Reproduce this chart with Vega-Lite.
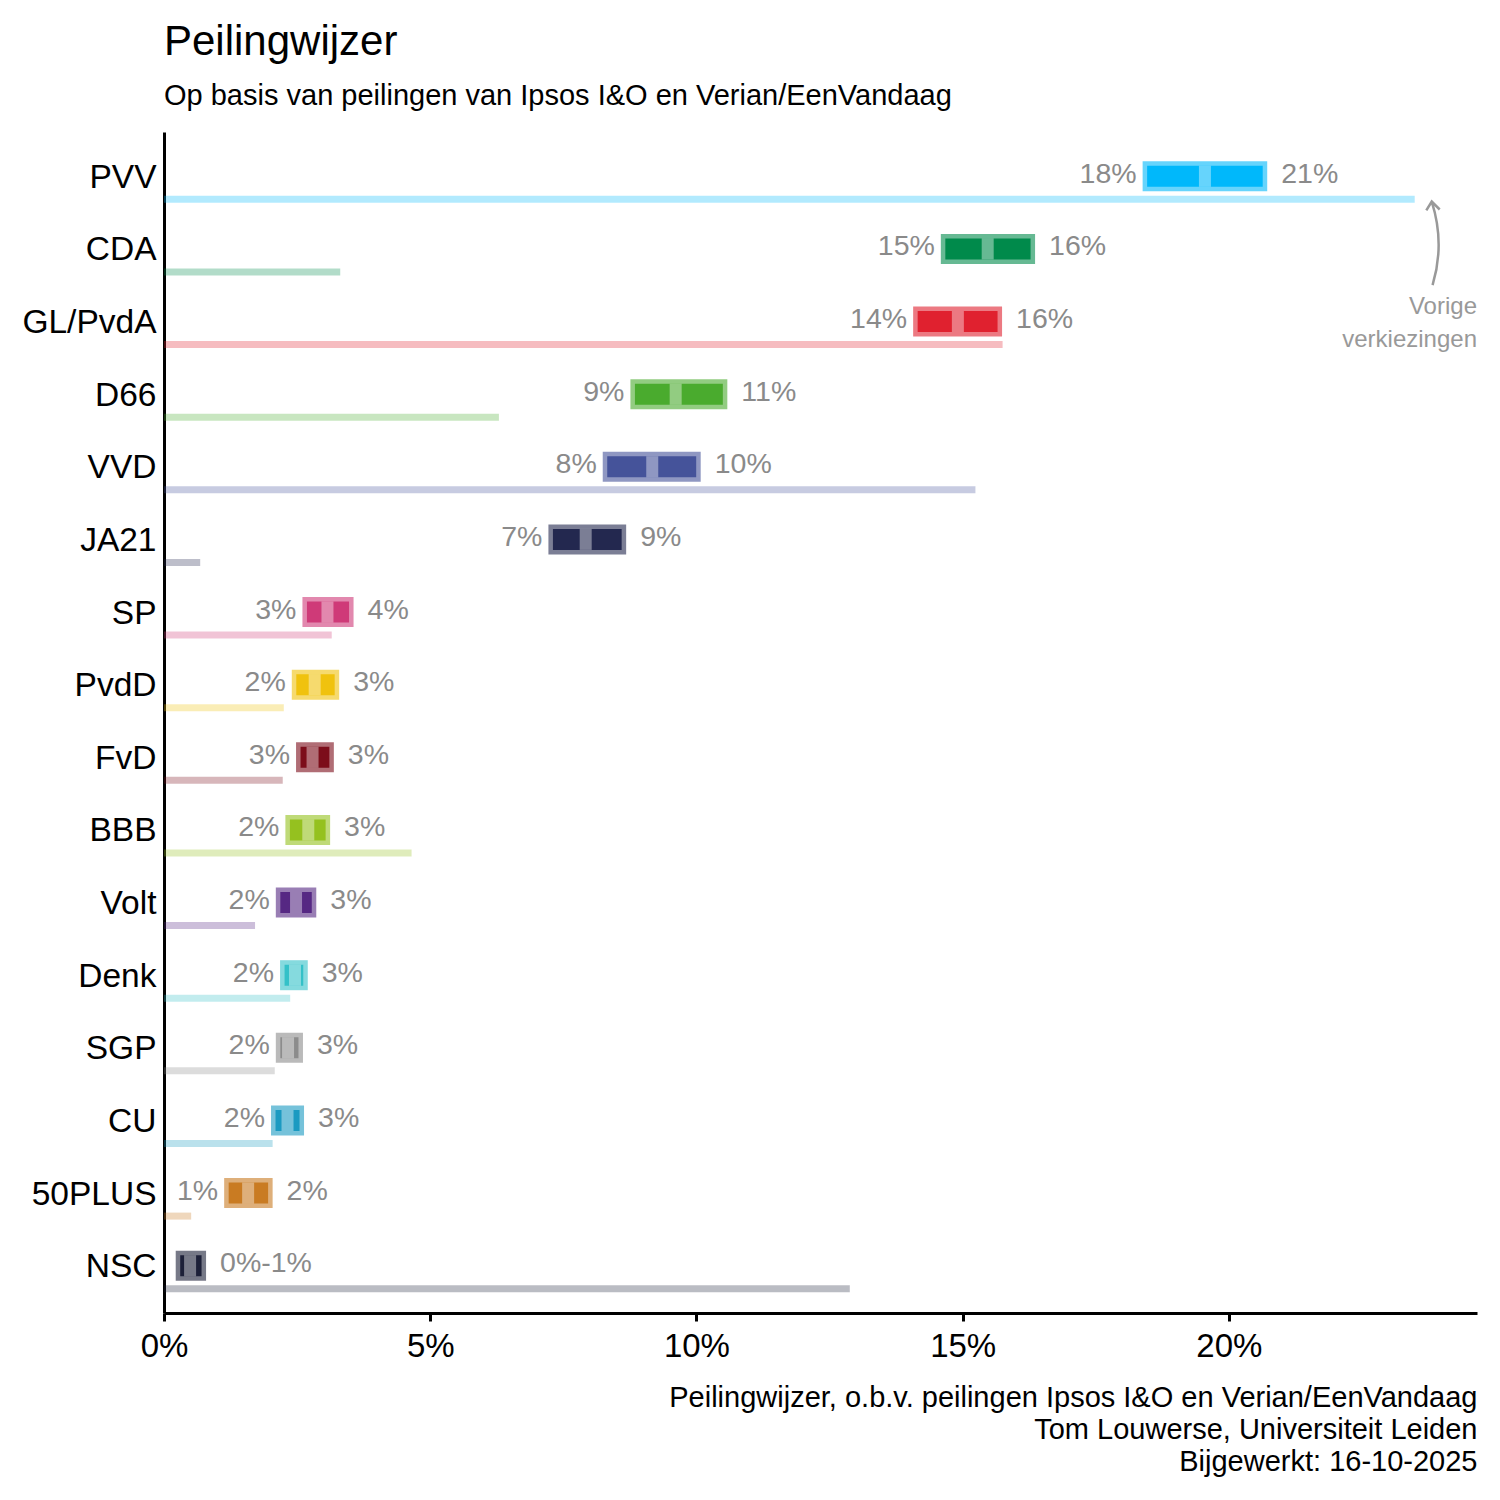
{
  "$schema": "https://vega.github.io/schema/vega-lite/v6.json",
  "width": 1313,
  "height": 1181,
  "autosize": {"type": "none"},
  "padding": {"left": 164, "top": 132, "right": 23, "bottom": 187},
  "background": "white",
  "config": {
    "font": "Liberation Sans",
    "view": {"stroke": null},
    "axis": {"grid": false}
  },
  "title": {
    "text": "Peilingwijzer",
    "subtitle": "Op basis van peilingen van Ipsos I&O en Verian/EenVandaag",
    "anchor": "start",
    "frame": "group",
    "fontSize": 42,
    "fontWeight": "normal",
    "color": "black",
    "subtitleFontSize": 29,
    "subtitleColor": "black",
    "subtitlePadding": 18,
    "offset": 20
  },
  "datasets": {
    "peiling": [
      {"party": "PVV", "lo": 18.38, "mid": 19.55, "hi": 20.72, "prev": 23.49, "lo_lab": "18%", "hi_lab": "21%"},
      {"party": "CDA", "lo": 14.59, "mid": 15.47, "hi": 16.36, "prev": 3.31, "lo_lab": "15%", "hi_lab": "16%"},
      {"party": "GL/PvdA", "lo": 14.07, "mid": 14.91, "hi": 15.74, "prev": 15.75, "lo_lab": "14%", "hi_lab": "16%"},
      {"party": "D66", "lo": 8.76, "mid": 9.61, "hi": 10.58, "prev": 6.29, "lo_lab": "9%", "hi_lab": "11%"},
      {"party": "VVD", "lo": 8.24, "mid": 9.17, "hi": 10.08, "prev": 15.24, "lo_lab": "8%", "hi_lab": "10%"},
      {"party": "JA21", "lo": 7.22, "mid": 7.92, "hi": 8.68, "prev": 0.68, "lo_lab": "7%", "hi_lab": "9%"},
      {"party": "SP", "lo": 2.6, "mid": 3.07, "hi": 3.56, "prev": 3.15, "lo_lab": "3%", "hi_lab": "4%"},
      {"party": "PvdD", "lo": 2.4, "mid": 2.83, "hi": 3.29, "prev": 2.25, "lo_lab": "2%", "hi_lab": "3%"},
      {"party": "FvD", "lo": 2.48, "mid": 2.79, "hi": 3.19, "prev": 2.23, "lo_lab": "3%", "hi_lab": "3%"},
      {"party": "BBB", "lo": 2.28, "mid": 2.71, "hi": 3.12, "prev": 4.65, "lo_lab": "2%", "hi_lab": "3%"},
      {"party": "Volt", "lo": 2.1, "mid": 2.48, "hi": 2.86, "prev": 1.71, "lo_lab": "2%", "hi_lab": "3%"},
      {"party": "Denk", "lo": 2.18, "mid": 2.46, "hi": 2.7, "prev": 2.37, "lo_lab": "2%", "hi_lab": "3%"},
      {"party": "SGP", "lo": 2.1, "mid": 2.33, "hi": 2.61, "prev": 2.08, "lo_lab": "2%", "hi_lab": "3%"},
      {"party": "CU", "lo": 2.01, "mid": 2.32, "hi": 2.63, "prev": 2.04, "lo_lab": "2%", "hi_lab": "3%"},
      {"party": "50PLUS", "lo": 1.13, "mid": 1.58, "hi": 2.04, "prev": 0.51, "lo_lab": "1%", "hi_lab": "2%"},
      {"party": "NSC", "lo": 0.22, "mid": 0.49, "hi": 0.79, "prev": 12.88, "lo_lab": "", "hi_lab": "0%-1%"}
    ],
    "annotation": [
      {"party": "CDA", "x": 23.81, "label": ""},
      {"party": "GL/PvdA", "x": 24.66, "label": ["Vorige", "verkiezingen"]}
    ]
  },
  "data": {"name": "peiling"},
  "encoding": {
    "y": {
      "field": "party",
      "type": "nominal",
      "title": null,
      "scale": {
        "domain": ["PVV", "CDA", "GL/PvdA", "D66", "VVD", "JA21", "SP", "PvdD", "FvD", "BBB", "Volt", "Denk", "SGP", "CU", "50PLUS", "NSC"],
        "paddingInner": 0,
        "paddingOuter": 0.13
      },
      "axis": {
        "ticks": false,
        "labelFontSize": 33.5,
        "labelColor": "black",
        "labelPadding": 8,
        "domainColor": "black",
        "domainWidth": 3
      }
    }
  },
  "layer": [
    {
      "mark": {"type": "bar", "height": 30, "yOffset": -1.5, "stroke": "white", "strokeOpacity": 0.4, "strokeWidth": 9},
      "encoding": {
        "x": {
          "field": "lo",
          "type": "quantitative",
          "scale": {"domain": [0, 24.66], "nice": false},
          "axis": {
            "values": [0, 5, 10, 15, 20],
            "labelExpr": "datum.value + '%'",
            "labelFlush": false,
            "labelFontSize": 33,
            "labelColor": "black",
            "labelPadding": 9,
            "tickSize": 8,
            "tickWidth": 3,
            "tickColor": "black",
            "domainColor": "black",
            "domainWidth": 3,
            "title": ["Peilingwijzer, o.b.v. peilingen Ipsos I&O en Verian/EenVandaag", "Tom Louwerse, Universiteit Leiden", "Bijgewerkt: 16-10-2025"],
            "titleAnchor": "end",
            "titleAlign": "right",
            "titleFontSize": 29,
            "titleFontWeight": "normal",
            "titleColor": "black",
            "titleLineHeight": 32,
            "titlePadding": 20
          }
        },
        "x2": {"field": "hi"},
        "color": {
          "field": "party",
          "type": "nominal",
          "legend": null,
          "scale": {
            "domain": ["PVV", "CDA", "GL/PvdA", "D66", "VVD", "JA21", "SP", "PvdD", "FvD", "BBB", "Volt", "Denk", "SGP", "CU", "50PLUS", "NSC"],
            "range": ["#00b8fb", "#008a4b", "#e0212f", "#4aab2e", "#45539a", "#23284f", "#cf3a78", "#f0c20e", "#7c0d1a", "#95c11f", "#562883", "#34c1c8", "#8c8c8c", "#1a9ac1", "#c97b22", "#1c2038"]
          }
        }
      }
    },
    {
      "mark": {"type": "tick", "thickness": 12, "size": 21, "yOffset": -1.5, "color": "white", "opacity": 0.4},
      "encoding": {
        "x": {"field": "mid", "type": "quantitative"}
      }
    },
    {
      "mark": {"type": "bar", "height": 7, "yOffset": 21.5, "opacity": 0.3},
      "encoding": {
        "x": {"field": "prev", "type": "quantitative", "stack": null},
        "color": {"field": "party", "type": "nominal", "legend": null}
      }
    },
    {
      "mark": {"type": "text", "align": "right", "baseline": "middle", "dx": -6, "yOffset": -4, "fontSize": 28.5, "color": "#8a8a8a"},
      "encoding": {
        "x": {"field": "lo", "type": "quantitative"},
        "text": {"field": "lo_lab", "type": "nominal"}
      }
    },
    {
      "mark": {"type": "text", "align": "left", "baseline": "middle", "dx": 14, "yOffset": -4, "fontSize": 28.5, "color": "#8a8a8a"},
      "encoding": {
        "x": {"field": "hi", "type": "quantitative"},
        "text": {"field": "hi_lab", "type": "nominal"}
      }
    },
    {
      "data": {"name": "annotation"},
      "transform": [{"filter": "datum.party == 'CDA'"}],
      "mark": {
        "type": "point",
        "shape": "M-0.13,-0.79 L0,-1 L0.19,-0.81 M0,-1 Q0.32,0 0.02,1",
        "size": 7000,
        "filled": false,
        "stroke": "#999999",
        "strokeWidth": 2.5,
        "opacity": 1,
        "yOffset": -7
      },
      "encoding": {
        "x": {"field": "x", "type": "quantitative"}
      }
    },
    {
      "data": {"name": "annotation"},
      "transform": [{"filter": "datum.party == 'GL/PvdA'"}],
      "mark": {"type": "text", "align": "right", "baseline": "middle", "fontSize": 24, "lineHeight": 33, "yOffset": -16, "color": "#999999"},
      "encoding": {
        "x": {"field": "x", "type": "quantitative"},
        "text": {"field": "label", "type": "nominal"}
      }
    }
  ]
}
